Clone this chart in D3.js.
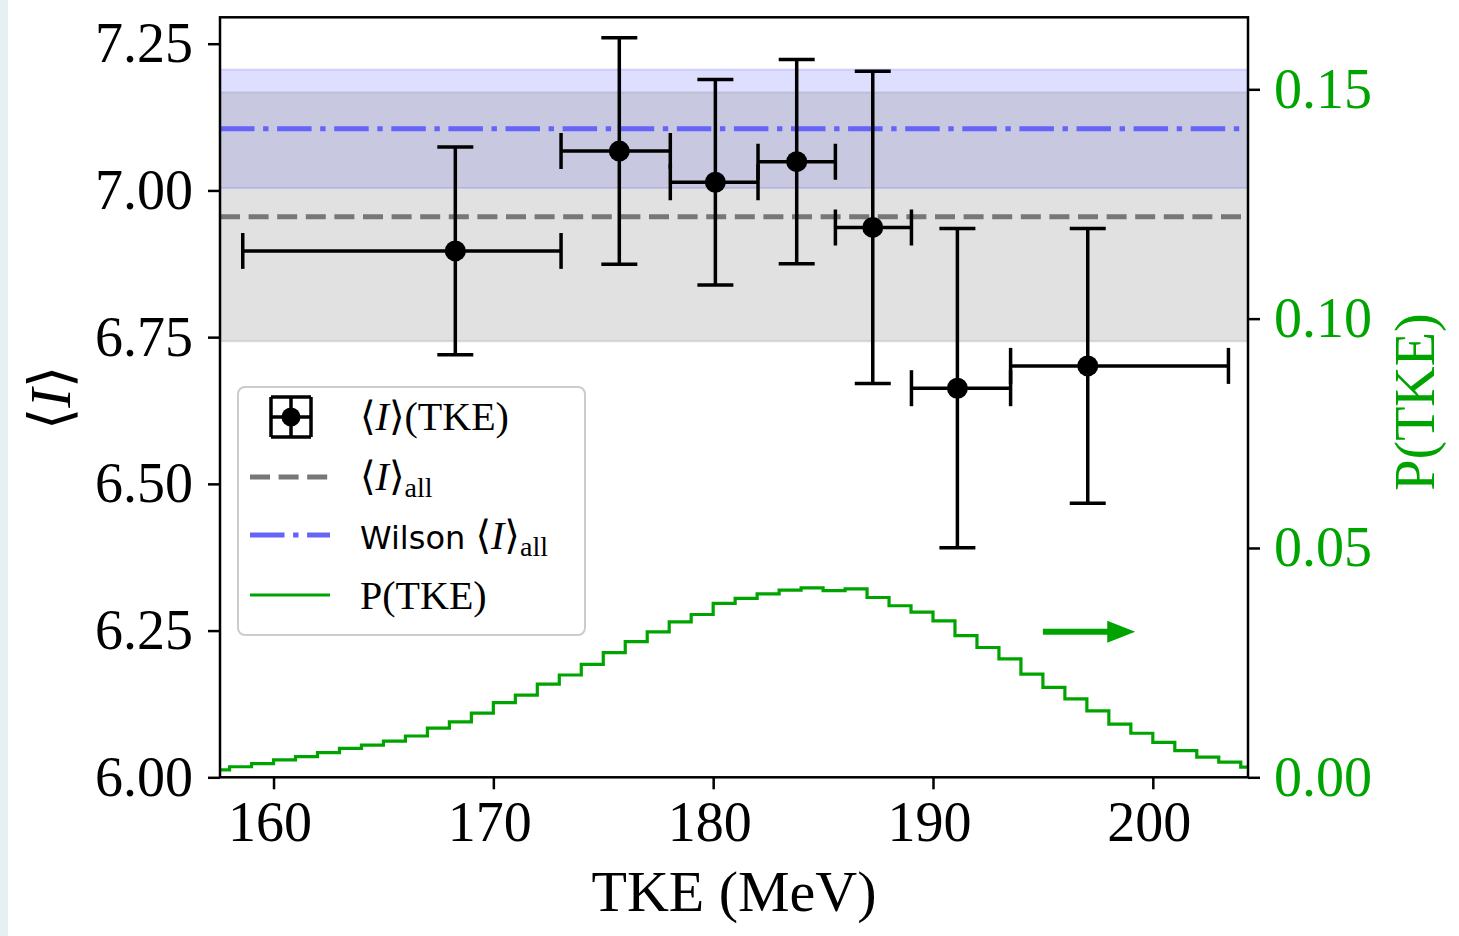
<!DOCTYPE html>
<html>
<head>
<meta charset="utf-8">
<script src="https://cdn.jsdelivr.net/npm/d3@7"></script>
<style>
  html, body { margin: 0; padding: 0; background: #ffffff; }
  svg { display: block; }
</style>
</head>
<body>
<svg id="chart" width="1459" height="936"></svg>
<script>
// ---------------- DATA ----------------
// mean <I> in TKE bins (with bin edges and symmetric errors)
const tkeMid  = [168.27, 175.73, 180.10, 183.80, 187.26, 191.11, 197.04];
const tkeLow  = [158.60, 173.08, 178.05, 182.04, 185.56, 189.02, 193.53];
const tkeHigh = [173.08, 178.05, 182.04, 185.56, 189.02, 193.53, 203.44];
const iMean   = [6.897, 7.067, 7.014, 7.049, 6.937, 6.663, 6.701];
const iErr    = [0.177, 0.193, 0.175, 0.174, 0.266, 0.272, 0.234];

// overall averages
const iAll = 6.955, iAllErr = 0.212;
const iWilson = 7.105, iWilsonErr = 0.101;

// P(TKE) histogram, 1 MeV bins starting at 157 MeV
const pEdgeStart = 157;
const pTKE = [0.0016, 0.0023, 0.0030, 0.0038, 0.0045, 0.0054, 0.0063, 0.0070,
              0.0079, 0.0090, 0.0107, 0.0121, 0.0140, 0.0163, 0.0179, 0.0203,
              0.0223, 0.0246, 0.0272, 0.0296, 0.0317, 0.0339, 0.0355, 0.0379,
              0.0390, 0.0400, 0.0408, 0.0413, 0.0407, 0.0411, 0.0392, 0.0374,
              0.0360, 0.0341, 0.0309, 0.0283, 0.0258, 0.0225, 0.0196, 0.0171,
              0.0145, 0.0116, 0.0096, 0.0076, 0.0058, 0.0044, 0.0033, 0.0022];

// arrow annotation (data coords: TKE, <I>)
const arrowFrom = [195.0, 6.248];
const arrowTo   = [199.2, 6.248];

// ticks
const xTicks = [160, 170, 180, 190, 200];
const yTicks = [6.00, 6.25, 6.50, 6.75, 7.00, 7.25];
const y2Ticks = [0.00, 0.05, 0.10, 0.15];

// ---------------- LAYOUT ----------------
const L = 220, R = 1248, T = 17.3, B = 777.3;
const GREEN = "#00a400";
const SERIF = "'Liberation Serif', 'DejaVu Serif', serif";
const SANS = "'DejaVu Sans', sans-serif";

const svg = d3.select("#chart");
svg.append("rect").attr("x", 0).attr("y", 0).attr("width", 1459).attr("height", 936).attr("fill", "#fff");
svg.append("rect").attr("x", 0).attr("y", 0).attr("width", 8).attr("height", 936).attr("fill", "#e6f0f2");

const x = d3.scaleLinear().domain([157.565, 204.33]).range([L, R]);
const y = d3.scaleLinear().domain([6.0, 7.295]).range([B, T]);
const y2 = d3.scaleLinear().domain([0, 0.1657]).range([B, T]);

svg.append("defs").append("clipPath").attr("id", "plotclip")
  .append("rect").attr("x", L).attr("y", T).attr("width", R - L).attr("height", B - T);

const plot = svg.append("g").attr("clip-path", "url(#plotclip)");

// bands (Wilson band underneath, overall band on top)
plot.append("rect")
  .attr("x", L).attr("width", R - L)
  .attr("y", y(iWilson + iWilsonErr)).attr("height", y(iWilson - iWilsonErr) - y(iWilson + iWilsonErr))
  .attr("fill", "blue").attr("fill-opacity", 0.13)
  .attr("stroke", "blue").attr("stroke-opacity", 0.13).attr("stroke-width", 2);
plot.append("rect")
  .attr("x", L).attr("width", R - L)
  .attr("y", y(iAll + iAllErr)).attr("height", y(iAll - iAllErr) - y(iAll + iAllErr))
  .attr("fill", "gray").attr("fill-opacity", 0.24)
  .attr("stroke", "gray").attr("stroke-opacity", 0.24).attr("stroke-width", 2);

// horizontal reference lines
plot.append("line")
  .attr("x1", L).attr("x2", R).attr("y1", y(iAll)).attr("y2", y(iAll))
  .attr("stroke", "#777777").attr("stroke-width", 5).attr("stroke-dasharray", "20,8.6");
plot.append("line")
  .attr("x1", L).attr("x2", R).attr("y1", y(iWilson)).attr("y2", y(iWilson))
  .attr("stroke", "#6464f8").attr("stroke-width", 5).attr("stroke-dasharray", "34.5,8.6,5.4,8.6");

// P(TKE) step histogram
const stepPts = pTKE.map((p, i) => [pEdgeStart + i, p]);
stepPts.push([pEdgeStart + pTKE.length, pTKE[pTKE.length - 1]]);
const stepLine = d3.line().x(d => x(d[0])).y(d => y2(d[1])).curve(d3.curveStepAfter);
plot.append("path").attr("d", stepLine(stepPts))
  .attr("fill", "none").attr("stroke", GREEN).attr("stroke-width", 3.2);

// arrow
const ax0 = x(arrowFrom[0]), ax1 = x(arrowTo[0]), ay = y(arrowFrom[1]);
const headLen = 28, headHalf = 11;
plot.append("line").attr("x1", ax0).attr("x2", ax1 - headLen + 1).attr("y1", ay).attr("y2", ay)
  .attr("stroke", GREEN).attr("stroke-width", 6);
plot.append("path")
  .attr("d", `M${ax1},${ay} L${ax1 - headLen},${ay - headHalf} L${ax1 - headLen},${ay + headHalf} Z`)
  .attr("fill", GREEN);

// error bars
const cap = 18;
const eb = plot.append("g").attr("stroke", "#000").attr("stroke-width", 3.5).attr("fill", "none");
tkeMid.forEach((m, i) => {
  const cx = x(m), cy = y(iMean[i]);
  const yt = y(iMean[i] + iErr[i]), yb = y(iMean[i] - iErr[i]);
  const xl = x(tkeLow[i]), xr = x(tkeHigh[i]);
  eb.append("line").attr("x1", xl).attr("x2", xr).attr("y1", cy).attr("y2", cy);
  eb.append("line").attr("x1", cx).attr("x2", cx).attr("y1", yt).attr("y2", yb);
  eb.append("line").attr("x1", cx - cap).attr("x2", cx + cap).attr("y1", yt).attr("y2", yt);
  eb.append("line").attr("x1", cx - cap).attr("x2", cx + cap).attr("y1", yb).attr("y2", yb);
  eb.append("line").attr("x1", xl).attr("x2", xl).attr("y1", cy - cap).attr("y2", cy + cap);
  eb.append("line").attr("x1", xr).attr("x2", xr).attr("y1", cy - cap).attr("y2", cy + cap);
});
plot.append("g").selectAll("circle").data(tkeMid).join("circle")
  .attr("cx", d => x(d)).attr("cy", (d, i) => y(iMean[i])).attr("r", 10.5).attr("fill", "#000");

// ---------------- AXES ----------------
function styleAxis(g, color) {
  g.select(".domain").remove();
  g.selectAll(".tick line").attr("stroke", "#000").attr("stroke-width", 2.5);
  g.selectAll(".tick text").attr("fill", color).style("font-family", SERIF).style("font-size", "56px");
}
const gx = svg.append("g").attr("transform", `translate(0,${B})`)
  .call(d3.axisBottom(x).tickValues(xTicks).tickFormat(d3.format("d")).tickSize(12).tickPadding(9));
styleAxis(gx, "#000");
gx.selectAll(".tick text").attr("dy", "0.76em").attr("dx", "-4");

const gy = svg.append("g").attr("transform", `translate(${L},0)`)
  .call(d3.axisLeft(y).tickValues(yTicks).tickFormat(d3.format(".2f")).tickSize(12).tickPadding(15));
styleAxis(gy, "#000");

const gy2 = svg.append("g").attr("transform", `translate(${R},0)`)
  .call(d3.axisRight(y2).tickValues(y2Ticks).tickFormat(d3.format(".2f")).tickSize(12).tickPadding(14));
styleAxis(gy2, GREEN);

// spines
svg.append("rect").attr("x", L).attr("y", T).attr("width", R - L).attr("height", B - T)
  .attr("fill", "none").attr("stroke", "#000").attr("stroke-width", 2.5);

// axis labels
svg.append("text").attr("x", 734).attr("y", 911).attr("text-anchor", "middle")
  .style("font-family", SERIF).style("font-size", "58px").attr("fill", "#000")
  .text("TKE (MeV)");

const yl = svg.append("text").attr("transform", "translate(70,398) rotate(-90)")
  .attr("text-anchor", "middle").style("font-family", SERIF).style("font-size", "58px").attr("fill", "#000");
yl.append("tspan").text("⟨");
yl.append("tspan").style("font-style", "italic").text("I");
yl.append("tspan").text("⟩");

svg.append("text").attr("transform", "translate(1434,402) rotate(-90)")
  .attr("text-anchor", "middle").style("font-family", SERIF).style("font-size", "56px").attr("fill", GREEN)
  .text("P(TKE)");

// ---------------- LEGEND ----------------
const lg = svg.append("g");
lg.append("rect").attr("x", 238).attr("y", 387).attr("width", 347).attr("height", 248)
  .attr("rx", 7).attr("fill", "#fff").attr("fill-opacity", 0.85)
  .attr("stroke", "#cccccc").attr("stroke-width", 2);

const hx0 = 250, hx1 = 330, tx = 360;
// entry 1: errorbar marker
const mcx = 291, mcy = 417, mh = 20;
const lm = lg.append("g").attr("stroke", "#000").attr("stroke-width", 3.5);
lm.append("line").attr("x1", mcx - mh).attr("x2", mcx + mh).attr("y1", mcy).attr("y2", mcy);
lm.append("line").attr("x1", mcx).attr("x2", mcx).attr("y1", mcy - mh).attr("y2", mcy + mh);
lm.append("line").attr("x1", mcx - mh).attr("x2", mcx + mh).attr("y1", mcy - mh).attr("y2", mcy - mh);
lm.append("line").attr("x1", mcx - mh).attr("x2", mcx + mh).attr("y1", mcy + mh).attr("y2", mcy + mh);
lm.append("line").attr("x1", mcx - mh).attr("x2", mcx - mh).attr("y1", mcy - mh).attr("y2", mcy + mh);
lm.append("line").attr("x1", mcx + mh).attr("x2", mcx + mh).attr("y1", mcy - mh).attr("y2", mcy + mh);
lg.append("circle").attr("cx", mcx).attr("cy", mcy).attr("r", 9.5).attr("fill", "#000");

const t1 = lg.append("text").attr("x", tx).attr("y", 430).style("font-family", SERIF).style("font-size", "40px");
t1.append("tspan").text("⟨");
t1.append("tspan").style("font-style", "italic").text("I");
t1.append("tspan").text("⟩(TKE)");

// entry 2
lg.append("line").attr("x1", hx0).attr("x2", hx1).attr("y1", 477).attr("y2", 477)
  .attr("stroke", "#777777").attr("stroke-width", 5).attr("stroke-dasharray", "20,8.6");
const t2 = lg.append("text").attr("x", tx).attr("y", 490).style("font-family", SERIF).style("font-size", "40px");
t2.append("tspan").text("⟨");
t2.append("tspan").style("font-style", "italic").text("I");
t2.append("tspan").text("⟩");
t2.append("tspan").attr("dy", 7).style("font-size", "28px").text("all");

// entry 3
lg.append("line").attr("x1", hx0).attr("x2", hx1).attr("y1", 535).attr("y2", 535)
  .attr("stroke", "#6464f8").attr("stroke-width", 5).attr("stroke-dasharray", "34.5,8.6,5.4,8.6");
const t3 = lg.append("text").attr("x", tx).attr("y", 549).style("font-family", SERIF).style("font-size", "40px");
t3.append("tspan").style("font-family", SANS).style("font-size", "32px").text("Wilson ");
t3.append("tspan").text("⟨");
t3.append("tspan").style("font-style", "italic").text("I");
t3.append("tspan").text("⟩");
t3.append("tspan").attr("dy", 7).style("font-size", "28px").text("all");

// entry 4
lg.append("line").attr("x1", hx0).attr("x2", hx1).attr("y1", 595).attr("y2", 595)
  .attr("stroke", GREEN).attr("stroke-width", 3.2);
lg.append("text").attr("x", tx).attr("y", 609).style("font-family", SERIF).style("font-size", "40px")
  .text("P(TKE)");
</script>
</body>
</html>
